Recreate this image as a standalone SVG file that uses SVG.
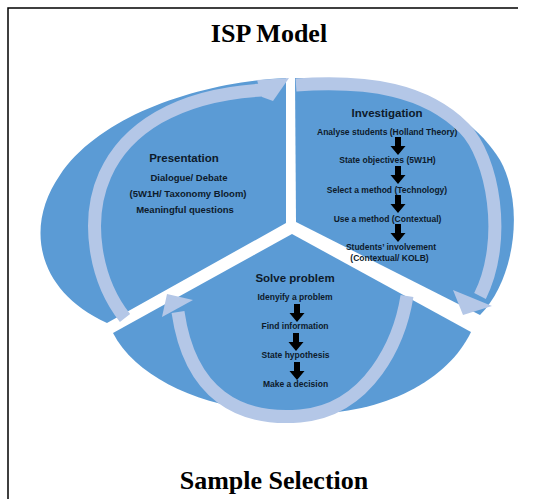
<svg xmlns="http://www.w3.org/2000/svg" xmlns:xlink="http://www.w3.org/1999/xlink" width="533" height="499" viewBox="0 0 533 499">
  <style>
    .sector { fill: #5B9BD5; }
    .band { fill: none; stroke: #B4C7E7; stroke-width: 13; stroke-linecap: butt; }
    .head { fill: #B4C7E7; }
    .heading { font-family: "Liberation Serif", "Times New Roman", serif; font-weight: bold; font-size: 26px; fill: #000; text-anchor: middle; }
    .title { font-family: "Liberation Sans", Arial, sans-serif; font-weight: bold; font-size: 11.5px; fill: #0D1A2B; text-anchor: middle; }
    .item { font-family: "Liberation Sans", Arial, sans-serif; font-weight: bold; font-size: 8.5px; fill: #0D1A2B; text-anchor: middle; }
    .item.big { font-size: 9.5px; }
    .item.left { text-anchor: start; }
    .step { fill: #000; }
  </style>
  <defs>
    <!-- small black down arrow between steps -->
    <path id="dn" d="M-3,0 H3 V9 H7.5 L0,18 L-7.5,9 H-3 Z"/>
  </defs>

  <rect width="533" height="499" fill="#fff"/>
  <!-- page frame (left and top edges) -->
  <polyline points="8,499 8,8 518,8" fill="none" stroke="#000" stroke-width="1.5"/>

  <text class="heading" x="269" y="42">ISP Model</text>
  <text class="heading" x="274" y="489">Sample Selection</text>

  <g id="presentation">
    <path class="sector" d="M286,78 C200,82 100,115 60,175 C25,225 35,290 107,323 L286,223 Z"/>
    <text class="title" x="184" y="162">Presentation</text>
    <text class="item big" x="189" y="181">Dialogue/ Debate</text>
    <text class="item big" x="188" y="197">(5W1H/ Taxonomy Bloom)</text>
    <text class="item big" x="185" y="213">Meaningful questions</text>
  </g>

  <g id="investigation">
    <path class="sector" d="M295,78 C375,77 460,95 500,160 C525,205 515,280 480,315 L296,222 Z"/>
    <text class="title" x="387" y="117">Investigation</text>
    <text class="item left" x="317" y="135">Analyse students (Holland Theory)</text>
    <use href="#dn" class="step" x="398" y="137"/>
    <text class="item" x="387.5" y="163">State objectives (5W1H)</text>
    <use href="#dn" class="step" x="398" y="166"/>
    <text class="item" x="387" y="193">Select a method (Technology)</text>
    <use href="#dn" class="step" x="398" y="195"/>
    <text class="item" x="387.5" y="222">Use a method (Contextual)</text>
    <use href="#dn" class="step" x="398" y="224"/>
    <text class="item" x="391" y="250">Students’ involvement</text>
    <text class="item" x="389.5" y="261">(Contextual/ KOLB)</text>
  </g>

  <g id="solve-problem">
    <path class="sector" d="M292,234 L113,333 C140,385 220,414 305,414 C385,414 448,380 471,332 Z"/>
    <text class="title" x="295" y="282">Solve problem</text>
    <text class="item" x="295" y="300">Idenyify a problem</text>
    <use href="#dn" class="step" x="297" y="304"/>
    <text class="item" x="295" y="329">Find information</text>
    <use href="#dn" class="step" x="296" y="333"/>
    <text class="item" x="295.5" y="358">State hypothesis</text>
    <use href="#dn" class="step" x="297" y="362"/>
    <text class="item" x="295.5" y="387">Make a decision</text>
  </g>

  <g id="connectors">
    <!-- Presentation -> Investigation -->
    <path class="band" d="M125,318 C95,280 85,220 105,175 C125,130 175,95 262,90"/>
    <polygon class="head" points="257,80 289,78 273,101 262,97"/>
    <!-- Investigation -> Solve problem -->
    <path class="band" d="M296,85 C370,80 426,90 464,128 C493,157 508,240 480,296"/>
    <polygon class="head" points="453,290 492,306 463,315"/>
    <!-- Solve problem -> Presentation -->
    <path class="band" d="M407,296 C400,340 370,410 300,416 C240,421 190,395 178,312"/>
    <polygon class="head" points="162,317 167,294 193,300"/>
  </g>
</svg>
